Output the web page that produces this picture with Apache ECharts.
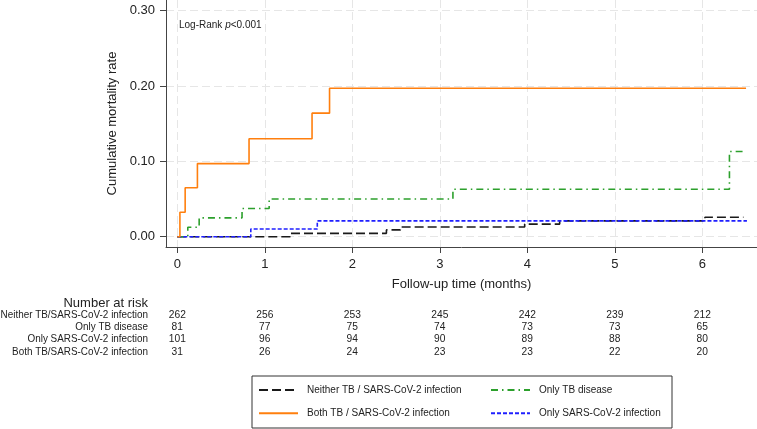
<!DOCTYPE html>
<html>
<head>
<meta charset="utf-8">
<title>Cumulative mortality</title>
<style>
    html, body { margin: 0; padding: 0; background: #fff; }
    .chart { width: 757px; height: 429px; }
</style>
<script src="https://cdn.jsdelivr.net/npm/echarts@6/dist/echarts.min.js"></script>
</head>
<body>
<div class="chart"></div>
<script>
// data
var months = [0, 1, 2, 3, 4, 5, 6];
var yTicks = [0, 0.1, 0.2, 0.3];

var seriesNames = [
    'Neither TB / SARS-CoV-2 infection',
    'Only TB disease',
    'Both TB / SARS-CoV-2 infection',
    'Only SARS-CoV-2 infection'
];

// step curves: time (months) and cumulative mortality after that time
var neitherTime = [0, 1.29, 2.39, 2.55, 3.97, 4.37, 6.03, 6.47];
var neitherRate = [0, 0.0044, 0.009, 0.0128, 0.0167, 0.021, 0.0257, 0.0257];
var onlyTbTime = [0, 0.12, 0.25, 0.74, 1.05, 3.15, 6.31, 6.46];
var onlyTbRate = [0, 0.0125, 0.025, 0.0375, 0.05, 0.063, 0.113, 0.113];
var bothTime = [0, 0.03, 0.09, 0.23, 0.82, 1.54, 1.74, 6.5];
var bothRate = [0, 0.0325, 0.065, 0.097, 0.13, 0.164, 0.197, 0.197];
var onlySarsTime = [0, 0.84, 1.6, 6.51];
var onlySarsRate = [0, 0.0101, 0.021, 0.021];

// number at risk table
var riskNames = [
    'Neither TB/SARS-CoV-2 infection',
    'Only TB disease',
    'Only SARS-CoV-2 infection',
    'Both TB/SARS-CoV-2 infection'
];
var riskNeither = [262, 256, 253, 245, 242, 239, 212];
var riskOnlyTb = [81, 77, 75, 74, 73, 73, 65];
var riskOnlySars = [101, 96, 94, 90, 89, 88, 80];
var riskBoth = [31, 26, 24, 23, 23, 22, 20];

(function () {
    var myChart = echarts.init(document.querySelector('.chart'), null, { renderer: 'canvas' });
    var font = 'Liberation Sans, Arial, sans-serif';

    function pairs(t, v) {
        return t.map(function (x, i) { return [x, v[i]]; });
    }

    function stepLine(name, t, v, color, dash) {
        return {
            name: name,
            type: 'line',
            step: 'end',
            symbol: 'none',
            data: pairs(t, v),
            lineStyle: { color: color, width: 1.6, type: dash },
            itemStyle: { color: color },
            animation: false
        };
    }

    var gridLine = { show: true, lineStyle: { color: '#e6e6e6', width: 1, type: [8, 4] } };

    // legend: just the line sample, hide the round marker
    function legendCol(left, names) {
        return {
            left: left, top: 384.5, orient: 'vertical', padding: 0,
            itemWidth: 39, itemHeight: 14, itemGap: 12,
            itemStyle: { opacity: 0 },
            textStyle: { color: '#222', fontSize: 10, padding: [0, 0, 0, 4] },
            data: names
        };
    }

    var option = {
        animation: false,
        textStyle: { fontFamily: font },
        grid: { left: 166, right: 0, top: 0, bottom: 182 },
        xAxis: {
            type: 'value',
            min: -0.129,
            max: 6.625,
            name: 'Follow-up time (months)',
            nameLocation: 'middle',
            nameGap: 31,
            nameTextStyle: { color: '#222', fontSize: 13 },
            axisLine: { onZero: false, lineStyle: { color: '#444', width: 1 } },
            axisTick: { customValues: months, length: 6, lineStyle: { color: '#444' } },
            axisLabel: { customValues: months, color: '#222', fontSize: 13, margin: 11 },
            splitLine: gridLine
        },
        yAxis: {
            type: 'value',
            min: -0.0137,
            max: 0.3142,
            name: 'Cumulative mortality rate',
            nameLocation: 'middle',
            nameGap: 47,
            nameTextStyle: { color: '#222', fontSize: 13 },
            axisLine: { show: true, onZero: false, lineStyle: { color: '#444', width: 1 } },
            axisTick: { show: true, customValues: yTicks, length: 6, lineStyle: { color: '#444' } },
            axisLabel: {
                customValues: yTicks,
                color: '#222',
                fontSize: 13,
                margin: 11,
                formatter: function (v) { return v.toFixed(2); }
            },
            splitLine: gridLine
        },
        legend: [
            legendCol(258, [seriesNames[0], seriesNames[2]]),
            legendCol(490, [seriesNames[1], seriesNames[3]])
        ],
        series: [
            stepLine(seriesNames[0], neitherTime, neitherRate, '#1a1a1a', [9, 4]),
            stepLine(seriesNames[1], onlyTbTime, onlyTbRate, '#2ca02c', [7, 4, 1.5, 4]),
            stepLine(seriesNames[3], onlySarsTime, onlySarsRate, '#1f1fff', [4, 2]),
            stepLine(seriesNames[2], bothTime, bothRate, '#ff7f0e', 'solid')
        ]
    };
    myChart.setOption(option);

    // number-at-risk table, columns placed on the x axis ticks
    // the table font in the picture is a bit condensed, hence scaleX
    var rows = [riskNeither, riskOnlyTb, riskOnlySars, riskBoth];
    var rowY = [315, 327.3, 339.3, 351.5];
    var graphic = [
        {
            type: 'text', left: 179, top: 20,
            style: {
                text: '{a|Log-Rank }{i|p}{a|<0.001}',
                rich: {
                    a: { fontSize: 10, fontFamily: font, fill: '#222' },
                    i: { fontSize: 10, fontFamily: font, fontStyle: 'italic', fill: '#222' }
                }
            }
        },
        {
            type: 'text', x: 148, y: 303,
            style: { text: 'Number at risk', fontSize: 13, fontFamily: font, fill: '#222', align: 'right', verticalAlign: 'middle' }
        },
        {
            type: 'rect',
            shape: { x: 252, y: 376, width: 420, height: 52 },
            style: { fill: 'none', stroke: '#333', lineWidth: 1 },
            z: 0
        }
    ];
    rows.forEach(function (row, r) {
        graphic.push({
            type: 'text', x: 148, y: rowY[r], scaleX: 0.9,
            style: { text: riskNames[r], fontSize: 11, fontFamily: font, fill: '#222', align: 'right', verticalAlign: 'middle' }
        });
        row.forEach(function (n, c) {
            var px = myChart.convertToPixel({ xAxisIndex: 0 }, months[c]);
            graphic.push({
                type: 'text', x: px, y: rowY[r], scaleX: 0.93,
                style: { text: String(n), fontSize: 11, fontFamily: font, fill: '#222', align: 'center', verticalAlign: 'middle' }
            });
        });
    });
    myChart.setOption({ graphic: graphic });

    window.addEventListener('resize', function () {
        myChart.resize();
    });
})();
</script>
</body>
</html>
